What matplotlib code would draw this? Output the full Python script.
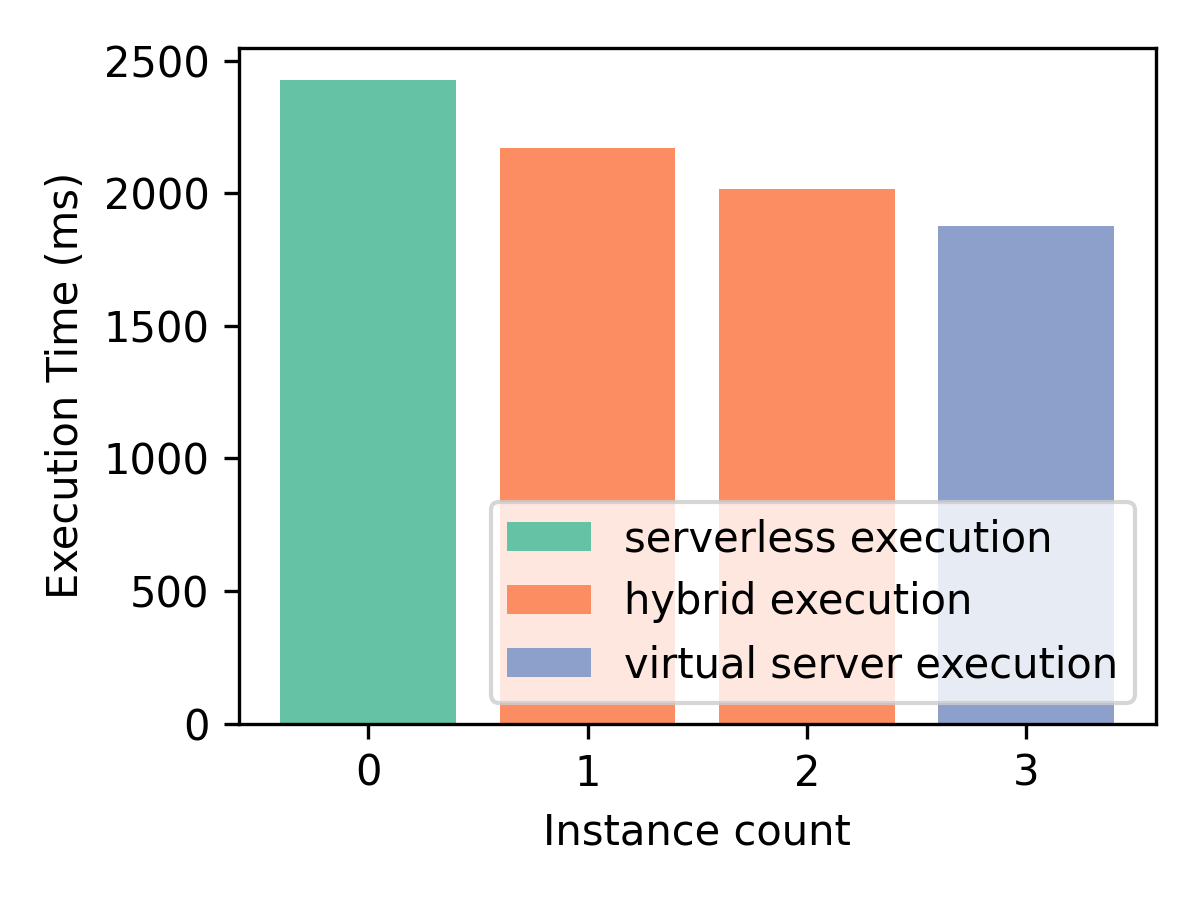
import matplotlib
matplotlib.use("Agg")
from matplotlib import pyplot as plt

instances = [0, 1, 2, 3]
exec_times = [2428, 2171, 2017, 1877]
labels = ["serverless execution", "hybrid execution", "hybrid execution", "virtual server execution"]
colors = ["#66c2a5", "#fc8d62", "#fc8d62", "#8da0cb"]

fig, ax = plt.subplots(figsize=(4, 3), dpi=300)
seen = set()
for x, y, lab, c in zip(instances, exec_times, labels, colors):
    ax.bar(x, y, color=c, label=lab if lab not in seen else None)
    seen.add(lab)

ax.set_xticks(instances)
ax.set_xlabel("Instance count")
ax.set_ylabel("Execution Time (ms)")
ax.legend(loc="lower right")

fig.subplots_adjust(left=0.199, right=0.963, top=0.947, bottom=0.196)
fig.savefig("out.png", dpi=300)
